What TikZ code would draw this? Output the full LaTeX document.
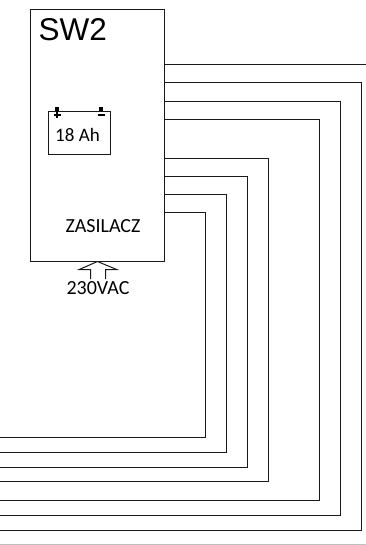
\documentclass[tikz,border=0pt]{standalone}
\usepackage{fontspec}
\setmainfont{Carlito}
\newfontfamily\arialfont{Liberation Sans}
\tikzset{
  wire/.style={draw=black!90,line width=1pt,line join=miter},
  boxstyle/.style={draw=black!90,line width=1pt,fill=white,inner sep=0pt,outer sep=0pt},
  lbl/.style={inner sep=0pt,text=black,font=\fontsize{19}{19}\selectfont},
  biglbl/.style={inner sep=0pt,text=black,font=\fontsize{20}{20}\selectfont},
  thin part/.style={draw=black!90,line width=1pt}
}
\begin{document}
\begin{tikzpicture}[x=1pt,y=-1pt]
\useasboundingbox (0,0) rectangle (366,545);
\node[boxstyle,minimum width=134pt,minimum height=252pt] (box) at (97.5,135.5) {};
\node[inner sep=0pt,text=black,font=\arialfont\fontsize{31.5}{32}\selectfont,anchor=base west] (title) at (38.5,41) {SW2};
% wires
\coordinate (topw) at (366,64.5);
\draw[wire] (box.east |- topw) -- (topw);
\foreach \n/\t/\r/\b in {1/82.5/361.5/530.5,2/101.5/340.5/515.5,3/119.5/319.5/500.5,4/158.5/268.5/481.5,5/176.5/247.5/467.5,6/194.5/226.5/452.5,7/212.5/205.5/437.5}{
  \coordinate (s\n) at (100,\t);
  \coordinate (c\n) at (\r,\b);
  \coordinate (e\n) at (0,\b);
  \draw[wire] (box.east |- s\n) -| (c\n) -- (e\n);
}
% battery
\node[boxstyle,minimum width=62pt,minimum height=43pt] (batt) at (79.5,133) {};
\node[lbl] (cap) at (77.5,135) {18 Ah};
\fill[black] (55,107) rectangle (59,111);
\fill[black] (99,107) rectangle (103,111);
\fill[black] (53.5,114) rectangle (60.5,116);
\fill[black] (56,111) rectangle (58,118.5);
\fill[black] (97.5,114) rectangle (104.5,116);
% labels
\node[biglbl] (zas) at (103,226) {ZASILACZ};
\node[biglbl] (ac) at (98,288.5) {230VAC};
% arrow
\draw[thin part,fill=white] (90.5,279) -- (90.5,269.5) -- (79.3,269.5) -- (97.5,261.5) -- (116.7,269.5) -- (105.5,269.5) -- (105.5,279);
% bottom rule
\fill[black!25] (0,544) rectangle (366,545);
\end{tikzpicture}
\end{document}
